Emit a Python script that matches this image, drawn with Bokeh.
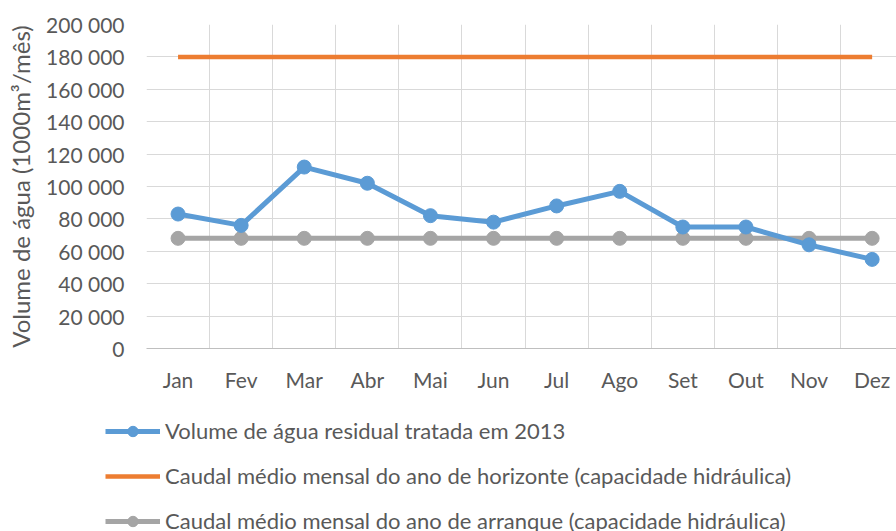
from bokeh.plotting import figure
from bokeh.models import Range1d, FixedTicker, Legend, LegendItem, ColumnDataSource
from bokeh.embed import file_html
from bokeh.resources import INLINE

months = ["Jan", "Fev", "Mar", "Abr", "Mai", "Jun", "Jul", "Ago", "Set", "Out", "Nov", "Dez"]
volume_2013 = [83000, 76000, 112000, 102000, 82000, 78000, 88000, 97000, 75000, 75000, 64000, 55000]
horizonte = [180000, 180000, 180000, 180000, 180000, 180000, 180000, 180000, 180000, 180000, 180000, 180000]
arranque = [68000, 68000, 68000, 68000, 68000, 68000, 68000, 68000, 68000, 68000, 68000, 68000]
y_ticks = [0, 20000, 40000, 60000, 80000, 100000, 120000, 140000, 160000, 180000, 200000]
y_tick_labels = ["0", "20 000", "40 000", "60 000", "80 000", "100 000", "120 000",
                 "140 000", "160 000", "180 000", "200 000"]
labels = ["Volume de água residual tratada em 2013",
          "Caudal médio mensal do ano de horizonte (capacidade hidráulica)",
          "Caudal médio mensal do ano de arranque (capacidade hidráulica)"]

FONT = "Lato"
TXT = "#595959"
BLUE = "#5B9BD5"
ORANGE = "#ED7D31"
GRAY = "#A5A5A5"

xs = list(range(len(months)))
src = ColumnDataSource(dict(x=xs, vol=volume_2013, hor=horizonte, arr=arranque))

p = figure(frame_width=750, frame_height=324, output_backend="svg", toolbar_location=None,
           x_range=Range1d(-0.5, 11.386), y_range=Range1d(0, 200000),
           min_border_top=24, min_border_right=0, min_border_left=146, min_border_bottom=60)
p.outline_line_color = None
p.background_fill_color = "white"
p.border_fill_color = "white"

# grids
p.xgrid.ticker = FixedTicker(ticks=[i + 0.5 for i in range(-1, 12)])
p.xgrid.grid_line_color = "#D9D9D9"
p.xgrid.grid_line_width = 1
p.ygrid.ticker = FixedTicker(ticks=y_ticks)
p.ygrid.grid_line_color = "#D9D9D9"
p.ygrid.grid_line_width = 1

# axes
p.xaxis.ticker = FixedTicker(ticks=xs)
p.xaxis.major_label_overrides = {i: m for i, m in enumerate(months)}
p.xaxis.axis_line_color = "#BFBFBF"
p.xaxis.axis_line_width = 1
p.xaxis.major_tick_line_color = None
p.xaxis.minor_tick_line_color = None
p.xaxis.major_label_standoff = 12
p.xaxis.major_label_text_font = FONT
p.xaxis.major_label_text_font_size = "21px"
p.xaxis.major_label_text_color = TXT

p.yaxis.ticker = FixedTicker(ticks=y_ticks)
p.yaxis.major_label_overrides = {t: l for t, l in zip(y_ticks, y_tick_labels)}
p.yaxis.axis_line_color = None
p.yaxis.major_tick_line_color = None
p.yaxis.minor_tick_line_color = None
p.yaxis.major_label_standoff = 16
p.yaxis.major_label_text_font = FONT
p.yaxis.major_label_text_font_size = "21px"
p.yaxis.major_label_text_color = TXT
p.yaxis.axis_label = "Volume de água (1000m³/mês)"
p.yaxis.axis_label_text_font = FONT
p.yaxis.axis_label_text_font_size = "24px"
p.yaxis.axis_label_text_font_style = "normal"
p.yaxis.axis_label_text_color = TXT
p.yaxis.axis_label_standoff = 8

# series
p.line("x", "hor", source=src, line_color=ORANGE, line_width=4.5)
p.line("x", "arr", source=src, line_color=GRAY, line_width=5)
p.scatter("x", "arr", source=src, size=14, fill_color=GRAY, line_color=GRAY)
p.line("x", "vol", source=src, line_color=BLUE, line_width=5)
p.scatter("x", "vol", source=src, size=14, fill_color=BLUE, line_color=BLUE)

# legend figure below the chart (hidden renderers only provide legend glyphs)
lf = figure(width=896, height=131, output_backend="svg", toolbar_location=None,
            x_range=Range1d(0, 1), y_range=Range1d(0, 1),
            x_axis_type=None, y_axis_type=None,
            min_border_top=0, min_border_right=0, min_border_left=0, min_border_bottom=0)
lf.grid.visible = False
lf.outline_line_color = None
k_vol_l = lf.line("x", "vol", source=src, line_color=BLUE, line_width=5, visible=False)
k_vol_s = lf.scatter("x", "vol", source=src, size=14, fill_color=BLUE, line_color=BLUE, visible=False)
k_hor_l = lf.line("x", "hor", source=src, line_color=ORANGE, line_width=4.5, visible=False)
k_arr_l = lf.line("x", "arr", source=src, line_color=GRAY, line_width=5, visible=False)
k_arr_s = lf.scatter("x", "arr", source=src, size=14, fill_color=GRAY, line_color=GRAY, visible=False)

legend = Legend(items=[
    LegendItem(label=labels[0], renderers=[k_vol_l, k_vol_s]),
    LegendItem(label=labels[1], renderers=[k_hor_l]),
    LegendItem(label=labels[2], renderers=[k_arr_l, k_arr_s]),
], location=(105, 5))
legend.orientation = "vertical"
legend.border_line_color = None
legend.background_fill_alpha = 0
legend.label_text_font = FONT
legend.label_text_font_size = "22px"
legend.label_text_color = TXT
legend.glyph_width = 55
legend.glyph_height = 26
legend.label_height = 26
legend.label_standoff = 5
legend.spacing = 18
legend.padding = 0
legend.margin = 0
lf.add_layout(legend, "center")

# two separate roots stacked vertically (no frame alignment between them)
open("out.html", "w").write(file_html([p, lf], INLINE))
